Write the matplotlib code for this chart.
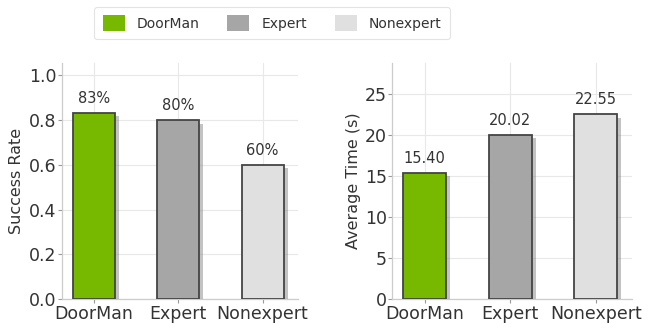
import matplotlib
matplotlib.use("Agg")
import matplotlib.pyplot as plt
import matplotlib.patheffects as pe
from matplotlib.patches import Patch

plt.rcParams['font.family'] = ['DejaVu Sans']

groups = ['DoorMan', 'Expert', 'Nonexpert']
colors = ['#76b900', '#a6a6a6', '#e0e0e0']
success = [0.833, 0.80, 0.60]
success_labels = ['83%', '80%', '60%']
avg_time = [15.40, 20.02, 22.55]
time_labels = ['15.40', '20.02', '22.55']

fig = plt.figure(figsize=(6.48, 3.31), dpi=100)
ax1 = fig.add_axes([0.0952, 0.0967, 0.3648, 0.713])
ax2 = fig.add_axes([0.6054, 0.0967, 0.3696, 0.713])

text_col = '#333333'


def draw(ax, vals, labels, ylabel, ylim, yticks, ticklabels):
    x = range(len(groups))
    bars = ax.bar(x, vals, width=0.5, color=colors, edgecolor='#444444',
                  linewidth=1.3, zorder=3)
    for b in bars:
        b.set_path_effects([pe.SimplePatchShadow(offset=(3, -2.5),
                                                 shadow_rgbFace='#888888', alpha=0.5),
                            pe.Normal()])
    for xi, v, lab in zip(x, vals, labels):
        ax.annotate(lab, (xi, v), xytext=(0, 5), textcoords='offset points',
                    ha='center', va='bottom', fontsize=10.5, color=text_col)
    ax.set_xlim(-0.38, 2.42)
    ax.set_ylim(*ylim)
    ax.set_yticks(yticks)
    ax.set_yticklabels(ticklabels)
    ax.set_xticks(list(x))
    ax.set_xticklabels(groups)
    ax.set_ylabel(ylabel, fontsize=11.5, color=text_col, labelpad=3)
    ax.grid(True, color='#e8e8e8', linewidth=0.8, zorder=0)
    ax.set_axisbelow(True)
    for s in ['top', 'right']:
        ax.spines[s].set_visible(False)
    for s in ['left', 'bottom']:
        ax.spines[s].set_color('#cccccc')
        ax.spines[s].set_linewidth(0.9)
    ax.tick_params(axis='both', colors='#999999', labelcolor=text_col,
                   labelsize=12.5, length=3, pad=1)


draw(ax1, success, success_labels, 'Success Rate', (0, 1.055),
     [0, 0.2, 0.4, 0.6, 0.8, 1.0], ['0.0', '0.2', '0.4', '0.6', '0.8', '1.0'])
draw(ax2, avg_time, time_labels, 'Average Time (s)', (0, 28.8),
     [0, 5, 10, 15, 20, 25], ['0', '5', '10', '15', '20', '25'])

handles = [Patch(facecolor=c, edgecolor='none') for c in colors]
leg = fig.legend(handles, groups, loc='center', bbox_to_anchor=(272 / 648, 1 - 23 / 331),
                 ncol=3, fontsize=10, frameon=True, handlelength=1.6,
                 handleheight=1.3, columnspacing=2.0, handletextpad=0.85,
                 labelcolor=text_col, borderpad=0.6)
leg.get_frame().set_edgecolor('#dddddd')
leg.get_frame().set_linewidth(0.8)

plt.savefig('out.png', dpi=100)
